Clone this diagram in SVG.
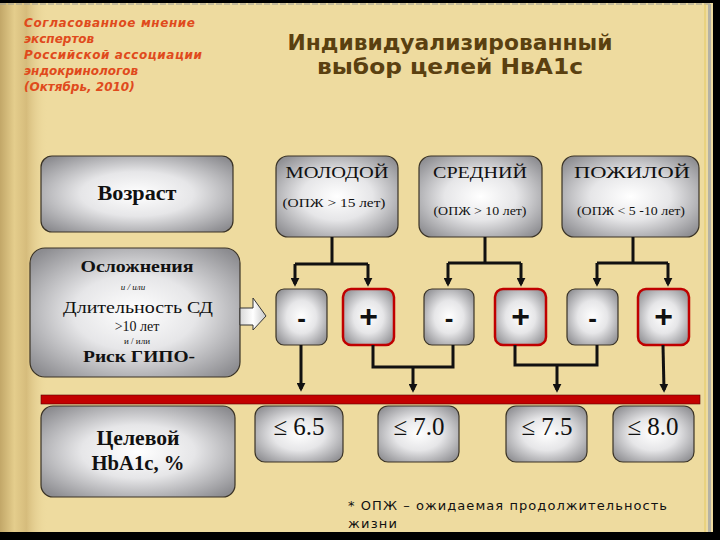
<svg xmlns="http://www.w3.org/2000/svg" width="720" height="540" viewBox="0 0 720 540">
<defs>
  <linearGradient id="leftShade" x1="0" y1="0" x2="1" y2="0">
    <stop offset="0" stop-color="#c2a768"/>
    <stop offset="0.3" stop-color="#e4cd8c"/>
    <stop offset="0.55" stop-color="#d6bc7c"/>
    <stop offset="1" stop-color="#eedb9f" stop-opacity="0"/>
  </linearGradient>
  <radialGradient id="silver" cx="50%" cy="50%" r="65%">
    <stop offset="0" stop-color="#ffffff"/>
    <stop offset="0.45" stop-color="#e6e6e8"/>
    <stop offset="1" stop-color="#8c8c90"/>
  </radialGradient>
  <linearGradient id="arrowFill" x1="0" y1="0" x2="1" y2="0">
    <stop offset="0" stop-color="#d8d8d8"/>
    <stop offset="0.5" stop-color="#ffffff"/>
    <stop offset="1" stop-color="#c8c8c8"/>
  </linearGradient>
  <marker id="arrow" viewBox="0 0 10 10" refX="7" refY="5" markerWidth="9" markerHeight="9" orient="auto" markerUnits="userSpaceOnUse">
    <path d="M0,0 L10,5 L0,10 z" fill="#111"/>
  </marker>
  <style>
    .box { fill: url(#silver); stroke: #3a3326; stroke-width: 1.2; }
    .pbox { fill: url(#silver); stroke: #c00000; stroke-width: 2.5; }
    .serif { font-family: "Liberation Serif", "DejaVu Serif", serif; fill: #111; text-anchor: middle; }
    .b { font-weight: bold; }
    .sign { font-family: "Liberation Sans", "DejaVu Sans", sans-serif; font-weight: bold; fill: #111; text-anchor: middle; }
    .conn { fill: none; stroke: #111; stroke-width: 3; }
    .note { font-family: "DejaVu Sans", "Liberation Sans", sans-serif; font-size: 13px; fill: #111; }
    .red { font-family: "DejaVu Sans", "Liberation Sans", sans-serif; font-size: 12px; font-weight: bold; font-style: italic; fill: #e04a1c; }
    .title { font-family: "DejaVu Sans", "Liberation Sans", sans-serif; font-size: 21px; font-weight: bold; fill: #5a4010; text-anchor: middle; }
  </style>
</defs>

<!-- page background -->
<rect x="0" y="0" width="720" height="540" fill="#eedb9f"/>
<rect x="0" y="0" width="48" height="540" fill="url(#leftShade)"/>
<rect x="0" y="0" width="720" height="3" fill="#000"/>
<line x1="0" y1="4" x2="712" y2="4" stroke="#9a9a94" stroke-width="1.2" stroke-dasharray="6 2"/>
<line x1="705" y1="4" x2="705" y2="532" stroke="#e4c860" stroke-width="1"/>
<line x1="709.5" y1="4" x2="709.5" y2="532" stroke="#b4b2a6" stroke-width="3"/>
<rect x="713" y="0" width="7" height="540" fill="#000"/>
<rect x="0" y="532" width="720" height="8" fill="#000"/>

<!-- header texts -->
<g id="source">
  <text class="red" x="24" y="27" textLength="171" lengthAdjust="spacing">Согласованное мнение</text>
  <text class="red" x="24" y="43">экспертов</text>
  <text class="red" x="24" y="59" textLength="178" lengthAdjust="spacing">Российской ассоциации</text>
  <text class="red" x="24" y="75">эндокринологов</text>
  <text class="red" x="24" y="91">(Октябрь, 2010)</text>
</g>
<g id="title">
  <text class="title" x="450" y="50" textLength="325" lengthAdjust="spacingAndGlyphs">Индивидуализированный</text>
  <text class="title" x="450" y="74" textLength="266" lengthAdjust="spacingAndGlyphs">выбор  целей  НвА1с</text>
</g>

<!-- left column -->
<g id="age">
  <rect class="box" x="41" y="156" width="192" height="76" rx="11"/>
  <text class="serif b" x="137" y="200" font-size="20" textLength="79" lengthAdjust="spacingAndGlyphs">Возраст</text>
</g>
<g id="risk">
  <rect class="box" x="30" y="248" width="210" height="129" rx="15"/>
  <text class="serif b" x="137" y="272" font-size="16" textLength="113" lengthAdjust="spacingAndGlyphs">Осложнения</text>
  <text class="serif" x="133" y="290" font-size="9" font-style="italic">и / или</text>
  <text class="serif" x="138" y="313" font-size="17" textLength="150" lengthAdjust="spacingAndGlyphs">Длительность СД</text>
  <text class="serif" x="137" y="331" font-size="14">&gt;10 лет</text>
  <text class="serif" x="137" y="344" font-size="9">и / или</text>
  <text class="serif b" x="139" y="362" font-size="16" textLength="112" lengthAdjust="spacingAndGlyphs">Риск ГИПО-</text>
</g>
<g id="target">
  <rect class="box" x="41" y="406" width="194" height="91" rx="12"/>
  <text class="serif b" x="138" y="445" font-size="20" textLength="83" lengthAdjust="spacingAndGlyphs">Целевой</text>
  <text class="serif b" x="138" y="470" font-size="20" textLength="93" lengthAdjust="spacingAndGlyphs">HbA1c, %</text>
</g>
<g id="blockArrow">
  <path d="M240,308 H253 V298 L266,316 L253,330 V325 H240 Z" fill="url(#arrowFill)" stroke="#333" stroke-width="1"/>
</g>

<!-- age group headers -->
<g id="young">
  <rect class="box" x="276" y="156" width="122" height="81" rx="12"/>
  <text class="serif" x="337" y="178" font-size="16" textLength="103" lengthAdjust="spacingAndGlyphs">МОЛОДОЙ</text>
  <text class="serif" x="334" y="207" font-size="13" textLength="103" lengthAdjust="spacingAndGlyphs">(ОПЖ  &gt; 15 лет)</text>
</g>
<g id="middle">
  <rect class="box" x="419" y="156" width="123" height="81" rx="12"/>
  <text class="serif" x="480" y="178" font-size="16" textLength="94" lengthAdjust="spacingAndGlyphs">СРЕДНИЙ</text>
  <text class="serif" x="480" y="215" font-size="13" textLength="93" lengthAdjust="spacingAndGlyphs">(ОПЖ &gt; 10 лет)</text>
</g>
<g id="elderly">
  <rect class="box" x="562" y="156" width="137" height="81" rx="12"/>
  <text class="serif" x="632" y="178" font-size="16" textLength="116" lengthAdjust="spacingAndGlyphs">ПОЖИЛОЙ</text>
  <text class="serif" x="631" y="215" font-size="12" textLength="108" lengthAdjust="spacingAndGlyphs">(ОПЖ &lt; 5 -10 лет)</text>
</g>

<!-- plus / minus boxes -->
<g id="m1"><rect class="box" x="276" y="289" width="51" height="56" rx="8"/><text class="sign" x="301.5" y="327" font-size="26">-</text></g>
<g id="p1"><rect class="pbox" x="343" y="289" width="51" height="56" rx="8"/><text class="sign" x="368.5" y="327" font-size="32">+</text></g>
<g id="m2"><rect class="box" x="424" y="289" width="50" height="56" rx="8"/><text class="sign" x="449" y="327" font-size="26">-</text></g>
<g id="p2"><rect class="pbox" x="495" y="289" width="51" height="56" rx="8"/><text class="sign" x="520.5" y="327" font-size="32">+</text></g>
<g id="m3"><rect class="box" x="567" y="289" width="51" height="56" rx="8"/><text class="sign" x="592.5" y="327" font-size="26">-</text></g>
<g id="p3"><rect class="pbox" x="638" y="289" width="51" height="56" rx="8"/><text class="sign" x="663.5" y="327" font-size="32">+</text></g>

<!-- red bar -->
<rect x="41" y="395" width="659" height="9" fill="#c30000" stroke="#5a0000" stroke-width="0.6"/>

<!-- target values -->
<g id="v65"><rect class="box" x="255" y="406" width="88" height="56" rx="10"/><text class="serif" x="299" y="435" font-size="25">≤ 6.5</text></g>
<g id="v70"><rect class="box" x="378" y="406" width="81" height="56" rx="10"/><text class="serif" x="419" y="435" font-size="25">≤ 7.0</text></g>
<g id="v75"><rect class="box" x="506" y="406" width="81" height="56" rx="10"/><text class="serif" x="547" y="435" font-size="25">≤ 7.5</text></g>
<g id="v80"><rect class="box" x="613" y="406" width="81" height="56" rx="10"/><text class="serif" x="653" y="435" font-size="25">≤ 8.0</text></g>

<!-- connectors -->
<g id="connectors">
  <path class="conn" d="M332,237 V264 M295,264 H368"/>
  <path class="conn" d="M295,264 V284" marker-end="url(#arrow)"/>
  <path class="conn" d="M368,264 V284" marker-end="url(#arrow)"/>
  <path class="conn" d="M485,237 V263 M448,263 H521"/>
  <path class="conn" d="M448,263 V284" marker-end="url(#arrow)"/>
  <path class="conn" d="M521,263 V284" marker-end="url(#arrow)"/>
  <path class="conn" d="M633,237 V263 M597,263 H668"/>
  <path class="conn" d="M597,263 V284" marker-end="url(#arrow)"/>
  <path class="conn" d="M668,263 V284" marker-end="url(#arrow)"/>

  <path class="conn" d="M301,345 V389" marker-end="url(#arrow)"/>
  <path class="conn" d="M373,345 V367 H453 V345"/>
  <path class="conn" d="M413,367 V390" marker-end="url(#arrow)"/>
  <path class="conn" d="M515,345 V365 H597 V345"/>
  <path class="conn" d="M557,365 V390" marker-end="url(#arrow)"/>
  <path class="conn" d="M663,345 L664,390" marker-end="url(#arrow)"/>
</g>

<!-- footnote -->
<g id="footnote">
  <text class="note" x="348" y="510" textLength="319" lengthAdjust="spacing">* ОПЖ – ожидаемая продолжительность</text>
  <text class="note" x="348" y="528" textLength="49" lengthAdjust="spacing">жизни</text>
</g>
</svg>
